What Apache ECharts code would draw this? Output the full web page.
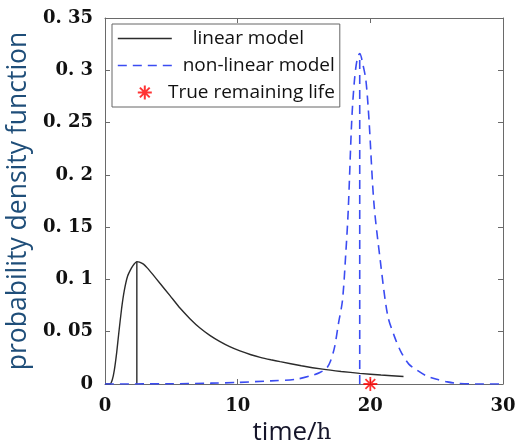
<!DOCTYPE html>
<html>
  <head>
    <meta charset="utf-8" />
    <title>probability density function</title>
    <script src="https://cdn.jsdelivr.net/npm/echarts@6/dist/echarts.min.js"></script>
    <style>
      html, body { margin: 0; padding: 0; background: #fff; }
      #chart { width: 516px; height: 447px; }
    </style>
  </head>
  <body>
    <div id="chart"></div>
    <script type="text/javascript">
      // linear model pdf
      const linearX = [0, 0.38, 0.55, 0.7, 0.88, 1.05, 1.25, 1.45, 1.7, 2.0, 2.2, 2.4, 2.6, 2.9, 3.2, 3.6, 4.14, 4.9, 5.65, 6.4, 7.16, 7.9, 8.67, 9.4, 10.17, 11.0, 11.7, 12.5, 13.2, 14.8, 16.4, 17.8, 19.2, 20.8, 22.5]
      const linearY = [0, 0, 0.004, 0.013, 0.03, 0.05, 0.072, 0.089, 0.103, 0.111, 0.1148, 0.117, 0.1166, 0.1146, 0.1108, 0.1048, 0.0963, 0.0845, 0.0726, 0.0625, 0.0535, 0.0465, 0.0405, 0.0357, 0.0316, 0.028, 0.0255, 0.0232, 0.0214, 0.0175, 0.0142, 0.012, 0.0102, 0.0086, 0.0072]

      // non-linear model pdf
      const nonlinX = [0, 5, 8, 10, 12.5, 14.4, 15.7, 16.2, 16.7, 17.0, 17.3, 17.6, 17.9, 18.15, 18.33, 18.6, 18.8, 19.0, 19.2, 19.45, 19.67, 19.9, 20.27, 20.75, 21.3, 21.8, 22.3, 22.9, 23.5, 24.2, 25.0, 25.8, 26.5, 28, 30]
      const nonlinY = [0, 0.0002, 0.0008, 0.0015, 0.003, 0.0045, 0.0086, 0.011, 0.015, 0.022, 0.035, 0.058, 0.08, 0.125, 0.165, 0.2525, 0.29, 0.31, 0.316, 0.305, 0.29, 0.2525, 0.173, 0.118, 0.066, 0.046, 0.031, 0.019, 0.0134, 0.008, 0.0045, 0.002, 0.0007, 0, 0]

      // peak markers (vertical lines) and the true remaining life
      const linearPeak = [2.4, 0.117]
      const nonlinPeak = [19.2, 0.316]
      const trueLife = [20, 0]

      const xTickLabels = ["0", "10", "20", "30"]
      const yTickLabels = ["0", "0. 05", "0. 1", "0. 15", "0. 2", "0. 25", "0. 3", "0. 35"]

      const zip = (xs, ys) => xs.map((x, i) => [x, ys[i]])

      const blackLine = { color: "#2b2b2b", width: 1.4 }
      const blueLine = { color: "#3b4cf2", width: 1.6, type: [9, 6] }
      const hidden = { color: "rgba(0,0,0,0)", borderColor: "rgba(0,0,0,0)", borderWidth: 0 }
      const starPath = "path://M0,-10L0,10M-10,0L10,0M-7,-7L7,7M-7,7L7,-7"
      const frame = { show: true, onZero: false, lineStyle: { color: "#6a6a6a", width: 1 } }
      const ticks = { show: true, inside: true, length: 5, lineStyle: { color: "#6a6a6a" } }
      const tickFont = { fontFamily: "DejaVu Serif", fontWeight: "bold", fontSize: 18, color: "#111" }
      const legendFont = { fontFamily: "Open Sans", fontSize: 19, color: "#111" }

      const myChart = echarts.init(document.getElementById("chart"))

      let option = {
        animation: false,
        grid: { left: 105, right: 13, top: 18, bottom: 63, containLabel: false, outerBoundsMode: "none" },
        legend: {
          left: 112,
          top: 24,
          orient: "vertical",
          itemWidth: 54,
          itemHeight: 14,
          itemGap: 8,
          padding: [5, 5, 5, 5],
          borderColor: "#666",
          borderWidth: 1,
          backgroundColor: "#fff",
          data: [
            { name: "linear model", itemStyle: hidden, lineStyle: blackLine },
            { name: "non-linear model", itemStyle: hidden, lineStyle: blueLine },
            { name: "True remaining life" }
          ],
          formatter: function (name) {
            if (name === "linear model") return "{l|" + name + "}{sp|}"
            return "{r|" + name + "}"
          },
          textStyle: Object.assign({}, legendFont, {
            rich: {
              r: Object.assign({ width: 158, align: "right" }, legendFont),
              l: Object.assign({ width: 143, align: "right" }, legendFont),
              sp: { width: 15 }
            }
          })
        },
        xAxis: [
          {
            type: "value",
            min: 0,
            max: 30,
            interval: 10,
            name: "{a|time/}{b|h}",
            nameLocation: "middle",
            nameGap: 36,
            nameTextStyle: {
              padding: [0, 24, 0, 0],
              rich: {
                a: { fontFamily: "Open Sans", fontSize: 26, color: "#15152a" },
                b: { fontFamily: "DejaVu Serif", fontSize: 23, color: "#15152a" }
              }
            },
            axisLine: frame,
            axisTick: ticks,
            axisLabel: Object.assign({ margin: 13, formatter: (v, i) => xTickLabels[i] }, tickFont),
            splitLine: { show: false }
          },
          {
            type: "value",
            position: "top",
            min: 0,
            max: 30,
            interval: 10,
            axisLine: frame,
            axisTick: ticks,
            axisLabel: { show: false },
            splitLine: { show: false }
          }
        ],
        yAxis: [
          {
            type: "value",
            min: 0,
            max: 0.35,
            interval: 0.05,
            name: "probability density function",
            nameLocation: "middle",
            nameGap: 68,
            nameTextStyle: { fontFamily: "Open Sans", fontSize: 26.5, color: "#1f4e79" },
            axisLine: frame,
            axisTick: ticks,
            axisLabel: Object.assign({ margin: 12, formatter: (v, i) => yTickLabels[i] }, tickFont),
            splitLine: { show: false }
          },
          {
            type: "value",
            position: "right",
            min: 0,
            max: 0.35,
            interval: 0.05,
            axisLine: frame,
            axisTick: ticks,
            axisLabel: { show: false },
            splitLine: { show: false }
          }
        ],
        series: [
          {
            name: "linear model",
            type: "line",
            symbol: "none",
            smooth: 0.2,
            lineStyle: blackLine,
            itemStyle: { color: blackLine.color },
            data: zip(linearX, linearY)
          },
          {
            name: "linear peak",
            type: "line",
            symbol: "none",
            lineStyle: blackLine,
            data: [[linearPeak[0], 0], linearPeak]
          },
          {
            name: "non-linear model",
            type: "line",
            symbol: "none",
            smooth: 0.3,
            lineStyle: blueLine,
            itemStyle: { color: blueLine.color },
            data: zip(nonlinX, nonlinY)
          },
          {
            name: "non-linear peak",
            type: "line",
            symbol: "none",
            lineStyle: blueLine,
            data: [[nonlinPeak[0], 0], nonlinPeak]
          },
          {
            name: "True remaining life",
            type: "scatter",
            symbol: starPath,
            symbolSize: 14,
            itemStyle: { color: "rgba(0,0,0,0)", borderColor: "#ff0000", borderWidth: 1.8 },
            data: [trueLife],
            z: 5
          }
        ]
      }
      myChart.setOption(option, true)
    </script>
  </body>
</html>
